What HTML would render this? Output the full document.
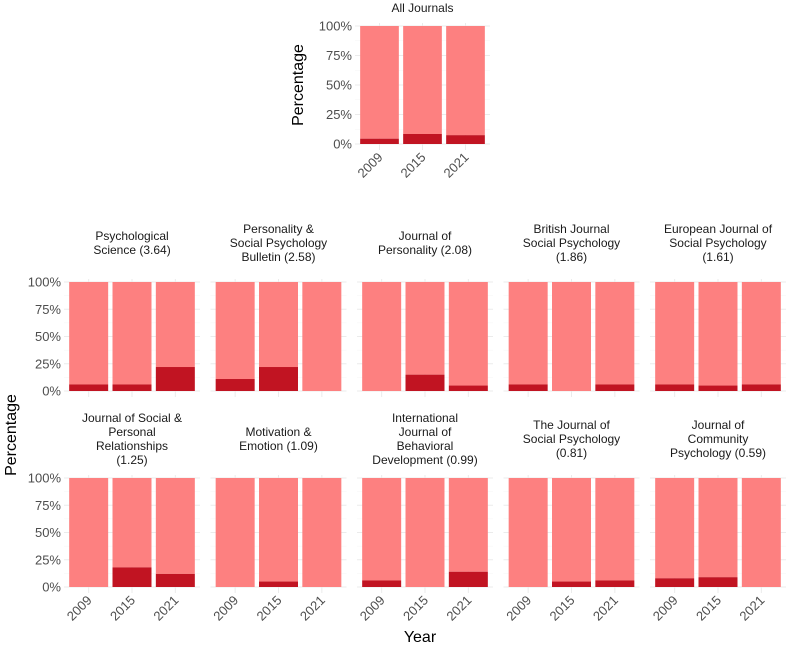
<!DOCTYPE html>
<html><head><meta charset="utf-8"><style>
html,body{margin:0;padding:0;background:#fff}
svg{display:block;font-family:"Liberation Sans",Arial,sans-serif}
</style></head><body>
<svg id="chart" width="787" height="648" viewBox="0 0 787 648" xmlns="http://www.w3.org/2000/svg"></svg>
<script>
const years = ["2009","2015","2021"];
const allJournalsValues = [4.5, 8.5, 7.5];
const journalTitles = [
  ["Psychological","Science (3.64)"],
  ["Personality &","Social Psychology","Bulletin (2.58)"],
  ["Journal of","Personality (2.08)"],
  ["British Journal","Social Psychology","(1.86)"],
  ["European Journal of","Social Psychology","(1.61)"],
  ["Journal of Social &","Personal","Relationships","(1.25)"],
  ["Motivation &","Emotion (1.09)"],
  ["International","Journal of","Behavioral","Development (0.99)"],
  ["The Journal of","Social Psychology","(0.81)"],
  ["Journal of","Community","Psychology (0.59)"]
];
const journalValues = [
  [6,6,22],[11,22,0],[0,15,5],[6,0,6],[6,5,6],
  [0,18,12],[0,5,0],[6,0,14],[0,5,6],[8,9,0]
];
const yTicks = [0,25,50,75,100];
const yTickLabels = ["0%","25%","50%","75%","100%"];

const svg = document.getElementById('chart');
const NS = "http://www.w3.org/2000/svg";
function mk(tag, attrs, parent){ const e=document.createElementNS(NS,tag); for(const k in attrs) e.setAttribute(k,attrs[k]); (parent||svg).appendChild(e); return e; }

function panel(x0, w, yTop, yBot, values, titleLines, titleCenterY, showY, showX, name){
  const g = mk('g',{});
  
  
  const ys = v => yBot - (v/100)*(yBot-yTop);
  const band = w/years.length;
  const xs = i => x0 + band*i + band/2;
  // grid
  for(let t=0;t<=100;t+=12.5){
    const l = mk('line',{x1:x0-3,x2:x0+w+3,y1:ys(t),y2:ys(t),stroke:t%25===0?'#ebebeb':'#f5f5f5','stroke-width':t%25===0?1:0.6},g);
    
    
  }
  for(let i=0;i<years.length;i++){
    const l = mk('line',{x1:xs(i),x2:xs(i),y1:yTop-3,y2:yBot+6,stroke:'#ebebeb','stroke-width':1},g);
    
    
  }
  for(let i=0;i<years.length;i++){
    const bw = band*0.9;
    const b1 = mk('rect',{x:xs(i)-bw/2,y:yTop,width:bw,height:ys(values[i])-yTop,fill:'#fd8080'},g);
    
    
    const b2 = mk('rect',{x:xs(i)-bw/2,y:ys(values[i]),width:bw,height:yBot-ys(values[i]),fill:'#c11422'},g);
    
    
    if(showX){
      const t = mk('text',{x:xs(i)+4,y:yBot+14,'font-size':13,fill:'#4d4d4d','text-anchor':'end',transform:`rotate(-45 ${xs(i)+4} ${yBot+14})`},g);
      t.textContent = years[i];
      
      
    }
  }
  if(showY){
    for(let j=0;j<yTicks.length;j++){
      const t = mk('text',{x:x0-6,y:ys(yTicks[j])+4.5,'font-size':13,fill:'#4d4d4d','text-anchor':'end'},g);
      t.textContent = yTickLabels[j];
      
      
    }
  }
  const lh = 14, n = titleLines.length;
  for(let k=0;k<n;k++){
    const t = mk('text',{x:x0+w/2,y:titleCenterY-(n-1)*lh/2+k*lh+4,'font-size':12,fill:'#1a1a1a','text-anchor':'middle'},g);
    t.textContent = titleLines[k];
    
    
  }
}

panel(358,129,26,144,allJournalsValues,["All Journals"],8,true,true,'panel-all-journals');
const px = [67,213.5,360,506.5,653];
for(let i=0;i<10;i++){
  const r = Math.floor(i/5), c = i%5;
  const yTop = r===0?282:478, yBot = r===0?391:587;
  panel(px[c],130,yTop,yBot,journalValues[i],journalTitles[i],r===0?243:439,c===0,r===1,'panel-journal-'+(i+1));
}
let t = mk('text',{x:303,y:85,'font-size':16,fill:'#000','text-anchor':'middle',transform:'rotate(-90 303 85)'});
t.textContent='Percentage';


t = mk('text',{x:16,y:435,'font-size':16,fill:'#000','text-anchor':'middle',transform:'rotate(-90 16 435)'});
t.textContent='Percentage';


t = mk('text',{x:420,y:642,'font-size':16,fill:'#000','text-anchor':'middle'});
t.textContent='Year';


</script>
</body></html>
